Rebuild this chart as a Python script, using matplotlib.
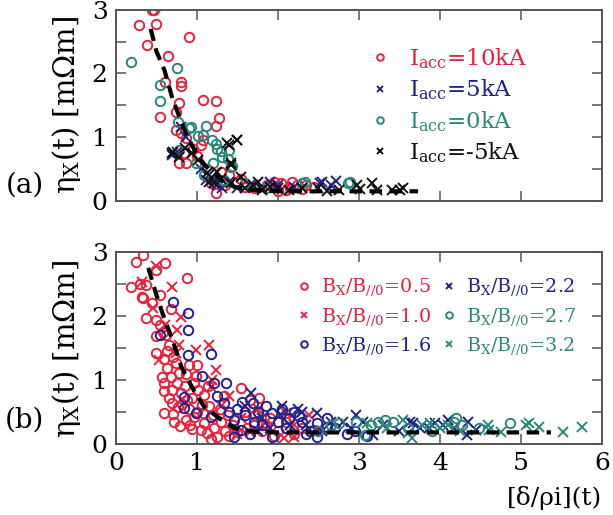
import numpy as np
import matplotlib.pyplot as plt
from matplotlib.ticker import MultipleLocator

plt.rcParams['font.family'] = ['DejaVu Serif']
plt.rcParams['mathtext.fontset'] = 'dejavuserif'

RED = '#e2243f'
NAVY = '#22228a'
TEAL = '#2b877c'
BLACK = '#111111'

# panel (a): accelerator current scan
a10_x = [0.44, 0.47, 0.29, 0.49, 0.39, 0.90, 0.64, 0.61, 0.81, 0.81, 0.78, 0.54, 1.07, 1.24,
         1.27, 1.24, 0.74, 0.74, 0.81, 0.86, 0.84, 0.78, 0.86, 1.07, 1.05, 1.24, 1.40, 1.17,
         1.60, 1.86, 2.04, 2.10, 2.18, 2.24, 2.35, 0.95, 1.00, 1.30, 1.50, 1.70, 1.90, 2.00,
         2.30, 2.45, 1.12, 1.35, 1.55, 1.95, 2.15]
a10_y = [3.00, 3.00, 2.76, 2.78, 2.45, 2.57, 2.28, 1.87, 1.87, 1.80, 1.54, 1.32, 1.59, 1.57,
         1.30, 1.18, 1.40, 1.11, 1.07, 0.98, 0.75, 0.60, 0.59, 0.96, 0.88, 0.13, 0.41, 0.28,
         0.22, 0.25, 0.28, 0.17, 0.30, 0.25, 0.25, 0.82, 0.70, 0.45, 0.30, 0.20, 0.25, 0.15,
         0.18, 0.22, 0.50, 0.25, 0.35, 0.30, 0.20]

a5_x = [0.75, 0.81, 0.69, 0.86, 1.11, 1.15, 1.21, 1.31, 1.25, 1.40, 1.50, 1.65, 1.80, 2.00,
        2.52, 2.54, 2.66, 2.72, 1.05, 1.90, 2.20]
a5_y = [0.77, 1.16, 0.72, 1.00, 0.33, 0.41, 0.33, 0.20, 0.25, 0.30, 0.20, 0.25, 0.20, 0.25,
        0.28, 0.30, 0.25, 0.31, 0.50, 0.30, 0.22]

a0_x = [0.19, 0.75, 0.54, 0.54, 0.77, 0.90, 1.01, 1.11, 1.07, 1.19, 1.24, 1.25, 1.31, 1.39,
        1.40, 1.43, 0.99, 0.78, 0.93, 1.09, 1.34, 1.42, 2.30, 2.34, 2.86, 2.89, 1.60, 1.85,
        1.20, 1.30]
a0_y = [2.18, 2.09, 1.82, 1.57, 1.24, 1.14, 1.02, 1.17, 1.04, 0.96, 0.90, 0.82, 0.69, 0.66,
        0.80, 0.55, 0.59, 0.80, 1.16, 0.41, 0.33, 0.53, 0.28, 0.30, 0.28, 0.30, 0.28, 0.20,
        0.60, 0.78]

am5_x = [0.69, 0.71, 0.78, 0.85, 0.94, 1.02, 1.12, 1.21, 1.37, 1.40, 1.49, 1.50, 1.42, 1.42,
         1.42, 1.55, 1.30, 1.60, 1.69, 1.75, 1.80, 1.90, 2.00, 2.14, 2.30, 2.50, 2.60, 2.76,
         2.98, 3.01, 3.16, 3.22, 3.41, 3.51, 3.55, 1.15, 1.25]
am5_y = [0.75, 0.77, 0.69, 0.83, 0.75, 0.64, 0.44, 0.28, 0.91, 0.88, 0.96, 0.96, 0.57, 0.60,
         0.28, 0.38, 0.35, 0.20, 0.25, 0.30, 0.17, 0.22, 0.20, 0.17, 0.20, 0.20, 0.15, 0.17,
         0.25, 0.19, 0.28, 0.17, 0.17, 0.17, 0.20, 0.30, 0.45]

fit_a_x = [0.43, 0.50, 0.60, 0.70, 0.85, 1.00, 1.12, 1.30, 1.46, 1.70, 2.00, 3.00, 3.73]
fit_a_y = [2.70, 2.35, 2.05, 1.60, 1.10, 0.72, 0.53, 0.33, 0.22, 0.17, 0.15, 0.15, 0.15]

# panel (b): guide field scan
b05_x = [0.34, 0.25, 0.61, 0.50, 0.19, 0.88, 0.33, 0.55, 0.37, 0.49, 0.55, 0.49, 0.50, 0.60,
         0.63, 0.74, 0.90, 1.00, 0.86, 0.99, 0.59, 0.69, 0.59, 0.80, 0.94, 1.09, 1.06, 0.69,
         0.59, 0.71, 0.86, 0.96, 1.09, 1.21, 1.25, 1.12, 0.94, 1.55, 0.65, 0.68, 0.75, 0.82,
         0.90, 1.00, 1.02, 1.15, 1.20, 1.30, 1.35, 1.40, 1.28, 0.78, 0.85, 0.57, 0.72, 1.18,
         1.45, 1.60, 1.70, 1.80, 1.65, 1.77, 2.00, 2.20, 1.90, 0.30, 0.45, 0.62, 0.68, 0.58,
         0.37, 0.32, 0.66, 0.77, 0.88, 0.97, 1.08, 1.14, 1.05, 0.92, 0.79, 0.70, 0.63, 1.33,
         1.38, 1.50, 1.62, 1.72, 1.85, 1.95, 2.10, 2.30, 2.45]
b05_y = [2.95, 2.84, 2.83, 2.72, 2.45, 2.59, 2.28, 2.33, 1.97, 1.94, 1.86, 1.69, 1.42, 1.32,
         1.19, 1.26, 1.23, 1.23, 1.09, 1.06, 0.95, 0.84, 0.83, 0.80, 0.72, 0.77, 0.61, 0.64,
         0.48, 0.47, 0.38, 0.42, 0.33, 0.25, 0.11, 0.17, 0.23, 0.88, 1.55, 1.05, 0.95, 0.62,
         0.55, 0.50, 0.85, 0.60, 0.45, 0.35, 0.20, 0.12, 0.55, 1.10, 0.90, 1.05, 0.35, 0.08,
         0.30, 0.50, 0.30, 0.20, 0.68, 0.72, 0.20, 0.15, 0.40, 2.50, 2.20, 1.70, 2.10, 1.75,
         2.48, 2.30, 0.72, 0.58, 0.68, 0.95, 0.48, 0.90, 0.22, 0.30, 0.28, 1.35, 1.45, 0.75,
         0.45, 0.18, 0.25, 0.45, 0.30, 0.12, 0.35, 0.25, 0.22]

b10_x = [0.50, 0.32, 0.69, 0.46, 0.81, 0.61, 0.75, 1.15, 0.78, 0.99, 0.53, 0.74, 1.24, 1.17,
         2.10, 2.39, 2.08, 1.65, 1.50, 1.85, 2.20, 1.30, 1.55, 1.75, 2.50, 1.40, 1.19, 2.20]
b10_y = [2.78, 2.53, 2.45, 2.13, 1.98, 1.86, 1.78, 1.55, 1.55, 1.47, 1.31, 1.42, 1.16, 0.89,
         0.48, 0.45, 0.10, 0.19, 0.15, 0.35, 0.30, 0.60, 0.40, 0.55, 0.20, 0.75, 1.00, 0.11]

b16_x = [0.70, 0.89, 0.89, 0.55, 0.89, 1.17, 1.06, 1.21, 1.36, 0.84, 0.84, 0.99, 1.17, 1.34,
         1.40, 1.46, 1.56, 1.55, 1.46, 1.69, 1.93, 2.14, 2.26, 2.48, 2.60, 1.93, 2.48, 1.60,
         1.75, 1.80, 1.85, 2.00, 2.05, 2.10, 2.20, 2.30, 2.40, 1.70, 1.65, 2.60, 2.70, 2.85,
         2.95, 3.10, 1.25, 1.50, 2.35]
b16_y = [2.22, 2.05, 1.78, 1.70, 1.39, 1.41, 1.06, 0.95, 0.95, 0.73, 0.56, 0.48, 0.42, 0.64,
         0.50, 0.38, 0.66, 0.22, 0.11, 0.64, 0.48, 0.41, 0.43, 0.33, 0.27, 0.11, 0.11, 0.45,
         0.50, 0.30, 0.60, 0.35, 0.55, 0.25, 0.50, 0.35, 0.20, 0.35, 0.15, 0.40, 0.25, 0.15,
         0.20, 0.12, 0.75, 0.55, 0.15]

b22_x = [1.67, 2.02, 2.48, 2.80, 2.97, 3.63, 3.18, 3.67, 3.94, 4.04, 4.35, 4.34, 4.17, 3.86,
         1.60, 1.80, 1.90, 2.15, 2.30, 2.35, 2.55, 2.65, 2.90, 3.05, 3.30, 3.50, 3.75, 4.10,
         4.45, 1.75, 2.25, 2.05]
b22_y = [0.80, 0.45, 0.48, 0.34, 0.45, 0.34, 0.14, 0.33, 0.33, 0.30, 0.34, 0.14, 0.25, 0.25,
         0.60, 0.40, 0.25, 0.30, 0.50, 0.30, 0.20, 0.35, 0.25, 0.35, 0.30, 0.20, 0.25, 0.38,
         0.22, 0.20, 0.55, 0.60]

b27_x = [2.76, 2.97, 3.24, 3.32, 3.42, 3.07, 4.17, 4.87, 4.27, 4.48, 2.50, 2.65, 3.90, 3.15,
         4.20, 3.60]
b27_y = [0.33, 0.34, 0.34, 0.38, 0.34, 0.14, 0.34, 0.33, 0.30, 0.25, 0.20, 0.30, 0.20, 0.30,
         0.40, 0.25]

b32_x = [3.10, 3.61, 3.78, 3.88, 4.59, 4.75, 5.06, 5.10, 5.22, 5.52, 5.75, 3.66, 4.25, 3.35,
         3.55, 4.00, 4.60, 4.10]
b32_y = [0.33, 0.17, 0.30, 0.33, 0.30, 0.19, 0.30, 0.33, 0.27, 0.19, 0.27, 0.09, 0.20, 0.25,
         0.38, 0.25, 0.22, 0.30]

fit_b_x = [0.40, 0.50, 0.60, 0.70, 0.81, 0.96, 1.09, 1.30, 1.46, 1.70, 2.00, 3.00, 4.00, 5.37]
fit_b_y = [2.75, 2.33, 1.95, 1.62, 1.20, 0.84, 0.58, 0.38, 0.25, 0.19, 0.18, 0.18, 0.18, 0.18]

fig = plt.figure(figsize=(6.13, 5.15), dpi=100)
ax_a = fig.add_axes([0.189, 0.610, 0.793, 0.371])
ax_b = fig.add_axes([0.189, 0.138, 0.793, 0.373])

ms = 6.8
mew = 1.4


def style(ax, labels):
    ax.set_xlim(0, 6)
    ax.set_ylim(0, 3)
    ax.xaxis.set_major_locator(MultipleLocator(1))
    ax.yaxis.set_major_locator(MultipleLocator(1))
    ax.yaxis.set_minor_locator(MultipleLocator(0.5))
    ax.tick_params(which='both', direction='in', top=True, right=True, length=7,
                   width=1.1, color='#555555', labelsize=18, pad=6)
    if not labels:
        ax.tick_params(axis='x', labelbottom=False)
    for s in ax.spines.values():
        s.set_color('#555555')
        s.set_linewidth(1.4)


# panel (a)
ax_a.plot(a10_x, a10_y, 'o', mfc='none', mec=RED, ms=ms, mew=mew, label=r'I$_{\rm acc}$=10kA')
ax_a.plot(a5_x, a5_y, 'x', color=NAVY, ms=ms, mew=mew, label=r'I$_{\rm acc}$=5kA')
ax_a.plot(a0_x, a0_y, 'o', mfc='none', mec=TEAL, ms=ms, mew=mew, label=r'I$_{\rm acc}$=0kA')
ax_a.plot(am5_x, am5_y, 'x', color=BLACK, ms=ms, mew=mew, label=r'I$_{\rm acc}$=-5kA')
ax_a.plot(fit_a_x, fit_a_y, '--', color='black', lw=3, dashes=(3, 1.8))
style(ax_a, False)
ax_a.legend(loc='upper left', bbox_to_anchor=(0.50, 0.87), frameon=False, fontsize=16.5,
            labelcolor=[RED, NAVY, TEAL, BLACK], handlelength=0.8, handletextpad=0.9,
            labelspacing=0.3, markerscale=0.7, borderpad=0)

# panel (b)
ax_b.plot(b05_x, b05_y, 'o', mfc='none', mec=RED, ms=ms, mew=mew,
          label=r'B$_{\rm X}$/B$_{//0}$=0.5')
ax_b.plot(b10_x, b10_y, 'x', color=RED, ms=ms, mew=mew,
          label=r'B$_{\rm X}$/B$_{//0}$=1.0')
ax_b.plot(b16_x, b16_y, 'o', mfc='none', mec=NAVY, ms=ms, mew=mew,
          label=r'B$_{\rm X}$/B$_{//0}$=1.6')
ax_b.plot(b22_x, b22_y, 'x', color=NAVY, ms=ms, mew=mew,
          label=r'B$_{\rm X}$/B$_{//0}$=2.2')
ax_b.plot(b27_x, b27_y, 'o', mfc='none', mec=TEAL, ms=ms, mew=mew,
          label=r'B$_{\rm X}$/B$_{//0}$=2.7')
ax_b.plot(b32_x, b32_y, 'x', color=TEAL, ms=ms, mew=mew,
          label=r'B$_{\rm X}$/B$_{//0}$=3.2')
ax_b.plot(fit_b_x, fit_b_y, '--', color='black', lw=3, dashes=(3, 1.8))
style(ax_b, True)
ax_b.legend(loc='upper left', bbox_to_anchor=(0.355, 0.92), ncol=2, frameon=False,
            fontsize=13.8, labelcolor=[RED, RED, NAVY, NAVY, TEAL, TEAL],
            handlelength=0.6, handletextpad=0.6, labelspacing=0.4, columnspacing=0.6,
            markerscale=0.7, borderpad=0)
ax_b.set_xlabel('[δ/ρi](t)', fontsize=18, loc='right', labelpad=8)

fig.text(0.108, 0.796, r'η$_{\rm X}$(t) [mΩm]', rotation=90, fontsize=21,
         ha='center', va='center')
fig.text(0.108, 0.322, r'η$_{\rm X}$(t) [mΩm]', rotation=90, fontsize=21,
         ha='center', va='center')
fig.text(0.04, 0.64, '(a)', fontsize=20, ha='center', va='center')
fig.text(0.04, 0.185, '(b)', fontsize=20, ha='center', va='center')

fig.savefig('out.png', dpi=100)
